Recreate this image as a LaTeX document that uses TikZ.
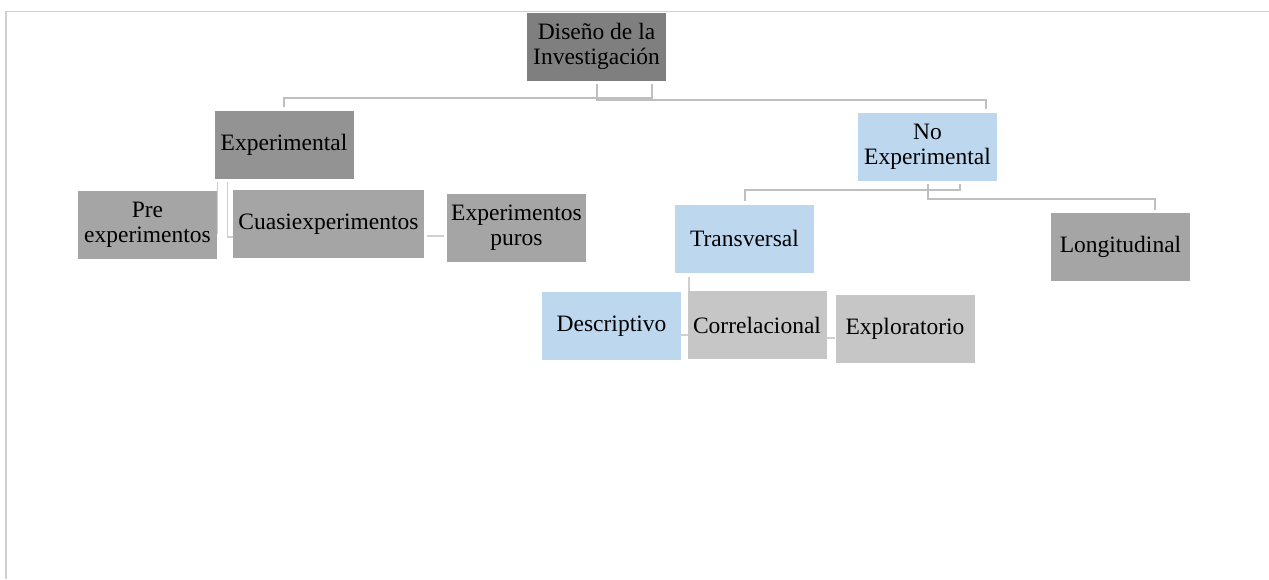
\documentclass[tikz,border=0pt]{standalone}
\usepackage{fontspec}
\setmainfont{Liberation Serif}
\usetikzlibrary{backgrounds}
\definecolor{gDark}{HTML}{7F7F7F}
\definecolor{gExp}{HTML}{939393}
\definecolor{gMid}{HTML}{A5A5A5}
\definecolor{gLight}{HTML}{C6C6C6}
\definecolor{lBlue}{HTML}{BDD7EE}
\definecolor{lineGray}{HTML}{BFBFBF}
\definecolor{lineLight}{HTML}{D0D0D0}
\definecolor{frameGray}{HTML}{D0D0D0}
\begin{document}
\begin{tikzpicture}[x=1pt,y=-1pt,
  box/.style={rectangle, inner sep=0pt, minimum width=139pt, minimum height=68pt,
    align=center, font=\fontsize{23.5}{24.5}\selectfont},
  conn/.style={draw=lineGray, line width=2pt},
  connL/.style={draw=lineLight, line width=1.6pt},
  frameline/.style={draw=frameGray, line width=1.5pt}]
\useasboundingbox (0,0) rectangle (1269,579);
\draw[frameline] (6,579) -- (6,11.5) -- (1269,11.5);

\node[box, fill=gDark] (dis) at (596.5,46.5) {Diseño de la\\Investigación};
\node[box, fill=gExp] (exp) at (284,144.5) {Experimental};
\node[box, fill=lBlue] (noexp) at (927.5,147) {No\\Experimental};
\node[box, fill=gMid] (pre) at (147.5,225) {Pre\\experimentos};
\node[box, fill=gMid, minimum width=191pt] (cuasi) at (328.5,224) {Cuasiexperimentos};
\node[box, fill=gMid] (puros) at (516.5,227.5) {Experimentos\\puros};
\node[box, fill=lBlue] (trans) at (744.5,238.5) {Transversal};
\node[box, fill=gMid] (long) at (1120.5,247) {Longitudinal};
\node[box, fill=lBlue] (desc) at (611.5,326) {Descriptivo};
\node[box, fill=gLight] (corr) at (757,325) {Correlacional};
\node[box, fill=gLight] (expl) at (905,329) {Exploratorio};

\begin{pgfonlayer}{background}
\draw[conn, shorten <=3pt, shorten >=3pt] ([xshift=-14pt]dis.south east) -- ++(0,17) -| (exp.north);
\draw[conn, shorten <=3pt, shorten >=4pt] (dis.south) -- ++(0,19) -| ([xshift=-11pt]noexp.north east);
\draw[connL, shorten <=3pt] ([xshift=3pt]exp.south west) |- ([yshift=-8pt]pre.east);
\draw[connL, shorten <=3pt] ([xshift=13pt]exp.south west) |- ([yshift=-13pt]cuasi.west);
\draw[connL, shorten <=3pt, shorten >=3pt] ([yshift=-12pt]cuasi.east) -- ([yshift=-12pt]cuasi.east -| puros.west);
\draw[conn, shorten <=3pt, shorten >=3pt] ([xshift=-37pt]noexp.south east) -- ++(0,9) -| (trans.north);
\draw[conn, shorten <=3pt, shorten >=3pt] (noexp.south) -- ++(0,18) -| ([xshift=-35pt]long.north east);
\draw[connL, shorten <=4pt] ([xshift=14pt]trans.south west) |- ([yshift=-9pt]desc.east);
\draw[connL] ([yshift=-13pt]corr.east) -- ([yshift=-13pt]corr.east -| expl.west);
\end{pgfonlayer}
\end{tikzpicture}
\end{document}
